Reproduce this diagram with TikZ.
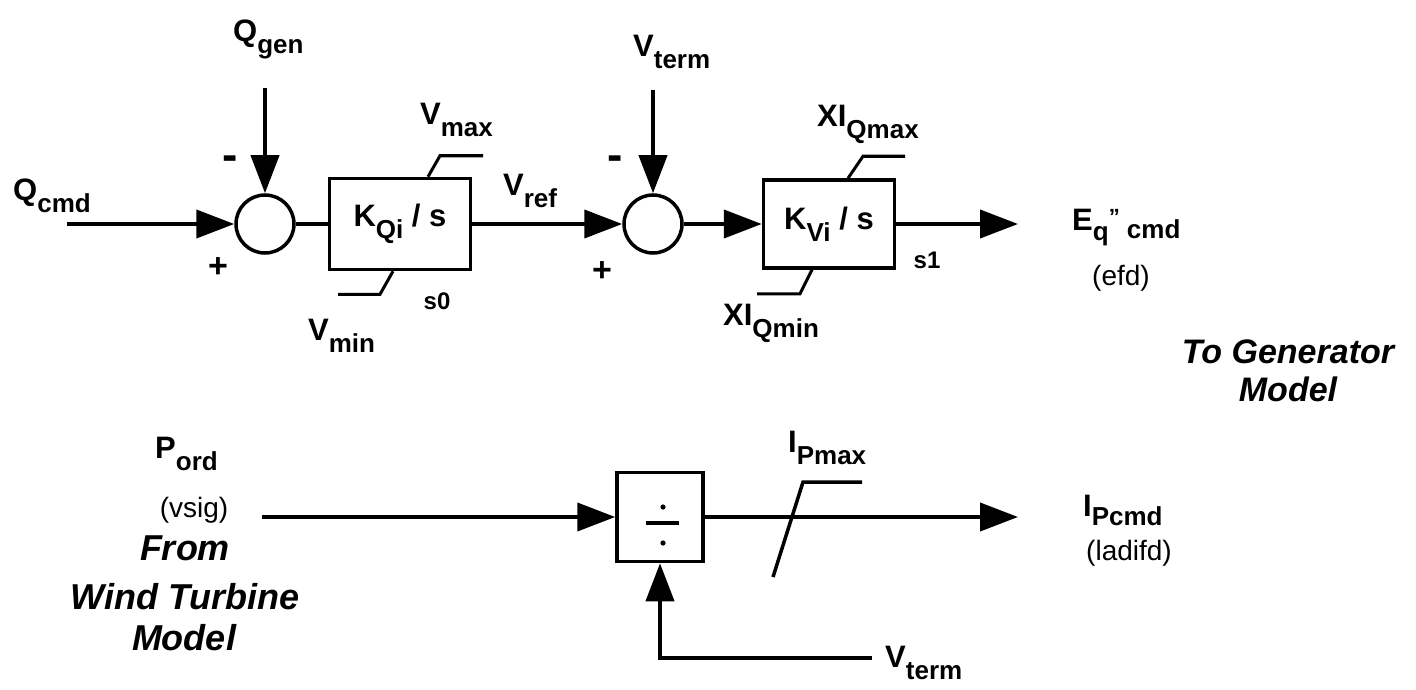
\documentclass[tikz,border=0pt]{standalone}
\usepackage{fontspec}
\setmainfont{Liberation Sans}
\usetikzlibrary{arrows.meta,calc}
\newcommand{\sbx}[2]{#1\raisebox{-12pt}{\fontsize{26}{26}\selectfont #2}}
\begin{document}
\begin{tikzpicture}[x=1pt,y=-1pt,
  sig/.style={line width=4pt,-{Triangle[length=38pt,width=28pt]}},
  wire/.style={line width=4pt},
  lim/.style={line width=3pt},
  sumc/.style={circle,draw,line width=3.5pt,minimum size=58pt,inner sep=0pt},
  blk/.style={rectangle,draw,line width=3.5pt,inner sep=0pt,font=\fontsize{31}{31}\selectfont\bfseries},
  lab/.style={inner sep=0pt,font=\fontsize{31}{31}\selectfont\bfseries},
  sml/.style={inner sep=0pt,font=\fontsize{28}{28}\selectfont},
  note/.style={inner sep=0pt,font=\fontsize{34}{34}\selectfont\bfseries\itshape},
  sgn/.style={inner sep=0pt,font=\fontsize{34}{34}\selectfont\bfseries},
  mns/.style={inner sep=0pt,font=\fontsize{46}{46}\selectfont\bfseries}]
\useasboundingbox (0,0) rectangle (1416,690);

% ---------- top row ----------
\node[sumc] (c1) at (265,224) {};
\node[blk,minimum width=141pt,minimum height=91pt] (b1) at (400,224) {\sbx{K}{Qi}\ / s};
\node[sumc] (c2) at (653,224) {};
\node[blk,minimum width=131pt,minimum height=88pt] (b2) at (829,224) {\sbx{K}{Vi}\ / s};

\coordinate (qin) at (67,224);
\coordinate (qg) at (265,88);
\coordinate (vt) at (653,90);
\coordinate (eout) at (1018,224);

\draw[sig] (qin) -- (c1.west);
\draw[sig] (qg) -- (c1.north);
\draw[wire] (c1.east) -- (b1.west);
\draw[sig] (b1.east) -- (c2.west);
\draw[sig] (vt) -- (c2.north);
\draw[sig] (c2.east) -- (b2.west);
\draw[sig] (b2.east) -- (eout);

% limiters top row
\draw[lim] ([xshift=28pt]b1.north) -- ++(12,-21) -- ++(43,0);
\draw[lim] ([xshift=-7pt]b1.south) -- ++(-13,23) -- ++(-42,0);
\draw[lim] ([xshift=19pt]b2.north) -- ++(15,-22) -- ++(42,0);
\draw[lim] ([xshift=-17pt]b2.south) -- ++(-12,24) -- ++(-43,0);

% labels top row
\node[lab,anchor=base west] (lqcmd) at (13,200) {\sbx{Q}{cmd}};
\node[lab,anchor=base west] (lqgen) at (233,42) {\sbx{Q}{gen}};
\node[mns] (m1) at (230,163) {-};
\node[sgn] (p1) at (218,268) {+};
\node[lab,anchor=base west] (lvmax) at (420,125) {\sbx{V}{max}};
\node[lab,anchor=base west] (lvmin) at (308,340) {\sbx{V}{min}};
\node[lab,font=\fontsize{24}{24}\selectfont\bfseries] (ls0) at (437,301) {s0};
\node[lab,anchor=base west] (lvref) at (503,195) {\sbx{V}{ref}};
\node[lab,anchor=base west] (lvterm) at (633,57) {\sbx{V}{term}};
\node[mns] (m2) at (615,163) {-};
\node[sgn] (p2) at (602,272) {+};
\node[lab,anchor=base west] (lxmax) at (817,127) {\sbx{XI}{Qmax}};
\node[lab,anchor=base west] (lxmin) at (723,325) {\sbx{XI}{Qmin}};
\node[lab,font=\fontsize{24}{24}\selectfont\bfseries] (ls1) at (927,260) {s1};
\node[lab,anchor=base west] (leq) at (1072,230) {E\raisebox{-10pt}{\fontsize{26}{26}\selectfont q}\raisebox{6pt}{\fontsize{22}{22}\selectfont\char34}\raisebox{-8pt}{\fontsize{26}{26}\selectfont\ cmd}};
\node[sml] (lefd) at (1121,278) {(efd)};
\node[note] (ltogen) at (1288,352) {To Generator};
\node[note] (ltomod) at (1288,389) {Model};

% ---------- bottom row ----------
\node[blk,minimum width=86pt,minimum height=89pt] (d1) at (660,517) {};
\fill (d1.center) ++(3,-10) circle (2.6pt);
\fill (d1.center) ++(3,26) circle (2.6pt);
\draw[line width=3.5pt] (d1.center) ++(-14,6) -- ++(33,0);

\coordinate (pin) at (262,517);
\coordinate (iout) at (1018,517);
\coordinate (vtb) at (872,658);

\draw[sig] (pin) -- (d1.west);
\draw[sig] (d1.east) -- (iout);
\draw[sig] (vtb) -| (d1.south);
\draw[line width=3.5pt] (773,577) -- (803,482) -- (862,482);

\node[lab,anchor=base west] (lpord) at (155,458) {\sbx{P}{ord}};
\node[sml] (lvsig) at (194,510) {(vsig)};
\node[note,font=\fontsize{36}{36}\selectfont\bfseries\itshape] (lfrom) at (185,548) {From};
\node[note,font=\fontsize{36}{36}\selectfont\bfseries\itshape] (lwind) at (185,597) {Wind Turbine};
\node[note,font=\fontsize{36}{36}\selectfont\bfseries\itshape] (lmodel) at (184,638) {Model};
\node[lab,anchor=base west] (lipmax) at (788,452) {\sbx{I}{Pmax}};
\node[lab,anchor=base west] (lvtb) at (885,667) {\sbx{V}{term}};
\node[lab,anchor=base west] (lipcmd) at (1083,516) {I\raisebox{-9pt}{\fontsize{26}{26}\selectfont Pcmd}};
\node[sml] (lladifd) at (1129,553) {(ladifd)};
\end{tikzpicture}
\end{document}
